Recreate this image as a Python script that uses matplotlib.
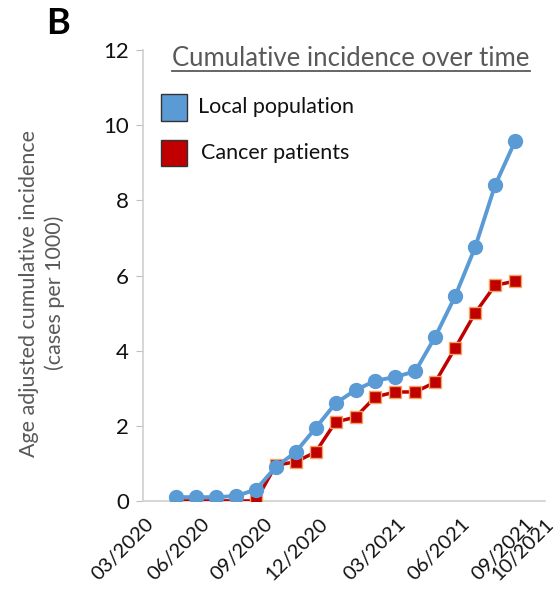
import numpy as np
import matplotlib
matplotlib.use("Agg")
import matplotlib.pyplot as plt
from matplotlib.patches import Rectangle

plt.rcParams['font.family'] = ['Lato', 'DejaVu Sans']

# -- data (monthly points, index positions)
local_pop = [0.10, 0.10, 0.10, 0.13, 0.30, 0.90, 1.30, 1.94, 2.60, 2.95,
             3.20, 3.30, 3.45, 4.37, 5.45, 6.75, 8.40, 9.57]
cancer_pat = [0.0, 0.0, 0.0, 0.0, 0.0, 0.95, 1.04, 1.30, 2.10, 2.23,
              2.77, 2.90, 2.90, 3.16, 4.07, 5.00, 5.74, 5.85]
tick_labels = ["03/2020", "06/2020", "09/2020", "12/2020",
               "03/2021", "06/2021", "09/2021", "10/2021"]
tick_pos = [-1.57, 1.23, 4.42, 7.17, 11.06, 14.3, 17.5, 18.5]

xs = np.arange(len(local_pop))

blue = "#5B9BD5"
red = "#C00000"
gray = "#595959"

fig = plt.figure(figsize=(5.6, 5.9), dpi=100)
ax = fig.add_axes([0.255, 0.151, 0.718, 0.764])

ax.plot(xs, cancer_pat, color=red, lw=2.5, marker="s", ms=8,
        mfc=red, mec="#F4A460", mew=1, zorder=3)
ax.plot(xs, local_pop, color=blue, lw=2.8, marker="o", ms=10,
        mfc=blue, mec=blue, zorder=4)

ax.set_xlim(-1.67, 18.05)
ax.set_ylim(0, 12)
ax.set_yticks(range(0, 13, 2))
ax.set_xticks(tick_pos)
ax.set_xticklabels(tick_labels, rotation=45, ha="right", va="top",
                   rotation_mode="anchor", fontsize=14.5, color="#111111")
ax.tick_params(axis="x", length=0, pad=10)
ax.tick_params(axis="y", length=5, color="#BFBFBF", labelsize=16,
               labelcolor="#111111", pad=5)

for s in ["top", "right"]:
    ax.spines[s].set_visible(False)
ax.spines["left"].set_color("#D0D0D0")
ax.spines["bottom"].set_color("#D0D0D0")
ax.spines["left"].set_linewidth(1.2)
ax.spines["bottom"].set_linewidth(1.2)

fig.text(42 / 560, 1 - 293 / 590,
         "Age adjusted cumulative incidence\n(cases per 1000)",
         rotation=90, ha="center", va="center", multialignment="center",
         color=gray, fontsize=15.5, linespacing=1.35)

# -- title, underlined
fig.text(351 / 560, 1 - 58 / 590, "Cumulative incidence over time", color=gray,
         fontsize=18.5, ha="center", va="center")
fig.add_artist(plt.Line2D([172 / 560, 530 / 560], [1 - 71 / 590, 1 - 71 / 590],
                          color=gray, lw=1.3, transform=fig.transFigure))

# -- legend squares
fig.add_artist(Rectangle((161 / 560, 1 - 121 / 590), 26 / 560, 27 / 590,
                         transform=fig.transFigure, fc=blue, ec="#333333", lw=1))
fig.text(198 / 560, 1 - 107 / 590, "Local population", fontsize=15.5,
         color="#111111", va="center")
fig.add_artist(Rectangle((161 / 560, 1 - 166 / 590), 26 / 560, 26 / 590,
                         transform=fig.transFigure, fc=red, ec="#333333", lw=1))
fig.text(201 / 560, 1 - 153 / 590, "Cancer patients", fontsize=15.5,
         color="#111111", va="center")

fig.text(58 / 560, 1 - 24 / 590, "B", fontsize=26, fontweight="bold",
         ha="center", va="center")

fig.savefig("out.png", dpi=100)
